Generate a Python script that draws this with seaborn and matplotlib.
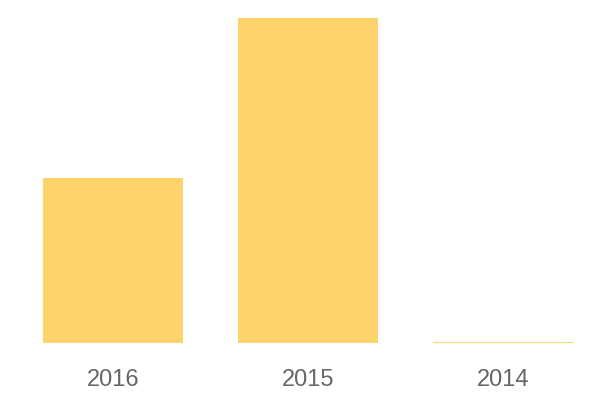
import matplotlib
matplotlib.use("Agg")
import matplotlib.pyplot as plt
import seaborn as sns
import pandas as pd

years = ["2016", "2015", "2014"]
values = [165, 325, 1.5]

sns.set_theme(style="white")
plt.rcParams['font.family'] = ['Liberation Sans', 'DejaVu Sans']

fig = plt.figure(figsize=(6, 4), dpi=100)
ax = fig.add_axes([0, 57 / 400, 1, 343 / 400])

df = pd.DataFrame({"year": years, "value": values})
sns.barplot(data=df, x="year", y="value", color="#FDD46B", saturation=1,
            width=140 / 195, ax=ax, linewidth=0)

ax.set_xlim(-113 / 195, (600 - 113) / 195)
ax.set_ylim(0, 343)
ax.set_xlabel("")
ax.set_ylabel("")
ax.set_yticks([])
for s in ax.spines.values():
    s.set_visible(False)
ax.tick_params(axis="x", length=0, pad=19, labelsize=17, labelcolor="#666666")

fig.savefig("out.png", dpi=100)
